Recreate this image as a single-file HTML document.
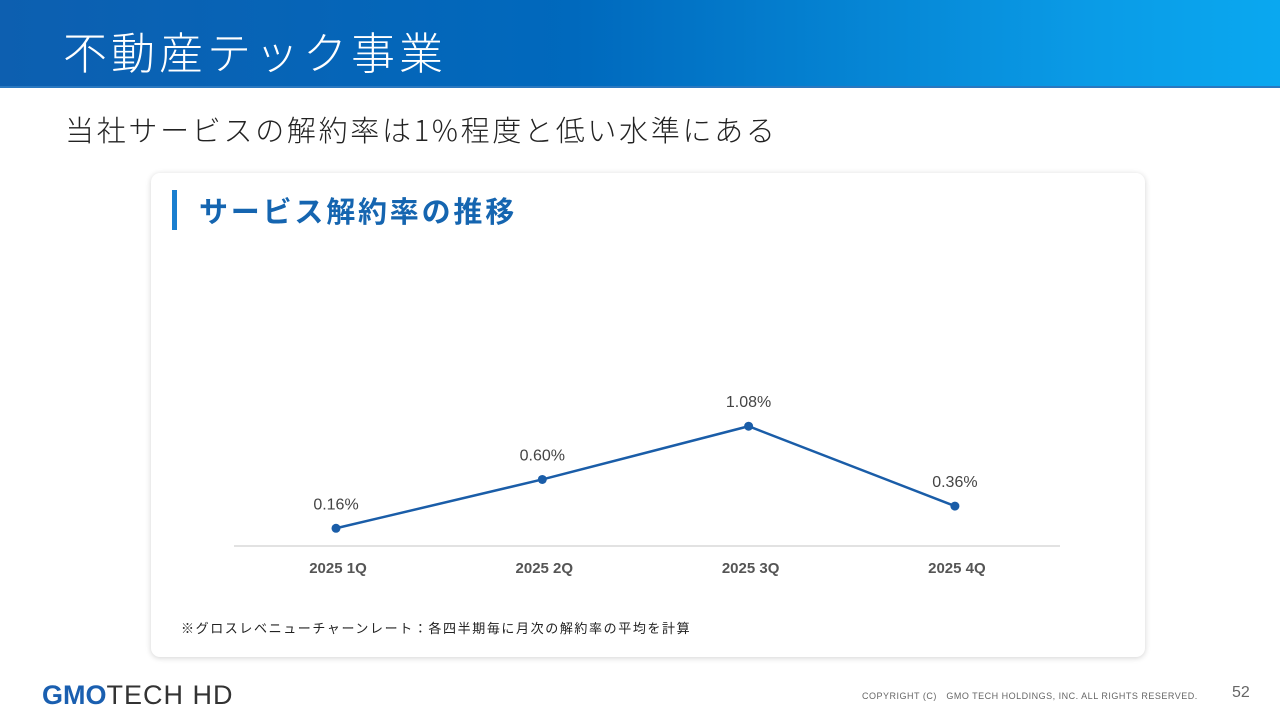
<!DOCTYPE html>
<html><head><meta charset="utf-8"><style>
body{margin:0;width:1280px;height:720px;position:relative;background:#fff;font-family:"Liberation Sans","Noto Sans CJK JP",sans-serif;overflow:hidden}
.hdr{position:absolute;left:0;top:0;width:1280px;height:86px;background:linear-gradient(90deg,#0d5fb0 0%,#0069bd 45%,#0a9be6 85%,#0aa8f0 100%);border-bottom:2px solid #2a78c0}
.hdr h1{margin:0;position:absolute;left:63px;top:18px;font-size:44px;font-weight:300;color:#fff;letter-spacing:4px;font-family:"Noto Sans CJK JP",sans-serif}
.sub{position:absolute;left:65px;top:108px;font-size:29px;color:#222;letter-spacing:2.7px;font-family:"Noto Sans CJK JP",sans-serif;font-weight:300}
.card{position:absolute;left:151px;top:173px;width:994px;height:484px;background:#fff;border-radius:9px;box-shadow:0 1px 6px rgba(0,0,0,.18)}
.ct{position:absolute;left:172px;top:190px;height:40px;border-left:5px solid #1a7fd0;padding-left:22px;font-size:29px;font-weight:bold;color:#1565b0;line-height:40px;letter-spacing:2.8px;font-family:"Noto Sans CJK JP",sans-serif}
.note{position:absolute;left:181px;top:618px;font-size:13px;color:#222;letter-spacing:1.6px}
.logo{position:absolute;left:42px;top:680px;font-size:27px;font-weight:bold;color:#1a5fb0;letter-spacing:0px}
.logo span{font-weight:normal;color:#333;letter-spacing:1px}
.copy{position:absolute;left:862px;top:689px;font-size:9px;color:#666;letter-spacing:.5px}
.pg{position:absolute;left:1232px;top:684px;font-size:16px;color:#666}
</style></head><body>
<div class="hdr"><h1>不動産テック事業</h1></div>
<div class="sub">当社サービスの解約率は1%程度と低い水準にある</div>
<div class="card"></div>
<div class="ct">サービス解約率の推移</div>
<svg id="chart" width="1280" height="720" style="position:absolute;left:0;top:0"></svg>
<div class="note">※グロスレベニューチャーンレート：各四半期毎に月次の解約率の平均を計算</div>
<div class="logo">GMO<span>TECH HD</span></div>
<div class="copy">COPYRIGHT (C)　GMO TECH HOLDINGS, INC. ALL RIGHTS RESERVED.</div>
<div class="pg">52</div>
<script>
const categories=["2025 1Q","2025 2Q","2025 3Q","2025 4Q"];
const values=[0.16,0.60,1.08,0.36];
const valueLabels=["0.16%","0.60%","1.08%","0.36%"];
const NS="http://www.w3.org/2000/svg";
const svg=document.getElementById('chart');
const x0=336,dx=206.3,yBase=546,k=110.9;
const xs=i=>x0+i*dx, ys=v=>yBase-v*k;
function mk(t,a){const e=document.createElementNS(NS,t);for(const n in a)e.setAttribute(n,a[n]);svg.appendChild(e);return e;}
const ax=mk('line',{x1:234,x2:1060,y1:yBase,y2:yBase,stroke:'#d9d9d9','stroke-width':1.5});


const ln=mk('polyline',{points:values.map((v,i)=>xs(i)+','+ys(v)).join(' '),fill:'none',stroke:'#1a5da8','stroke-width':2.5});


values.forEach((v,i)=>{
 const c=mk('circle',{cx:xs(i),cy:ys(v),r:4.5,fill:'#1a5da8'});
 
 
 const t=mk('text',{x:xs(i),y:ys(v)-19,'text-anchor':'middle','font-size':16,fill:'#444','font-family':'Liberation Sans, sans-serif'});
 t.textContent=valueLabels[i];
 
 
 const l=mk('text',{x:xs(i)+2,y:573,'text-anchor':'middle','font-size':15,'font-weight':'bold',fill:'#555','font-family':'Liberation Sans, sans-serif'});
 l.textContent=categories[i];
 
 
});
</script>
</body></html>
